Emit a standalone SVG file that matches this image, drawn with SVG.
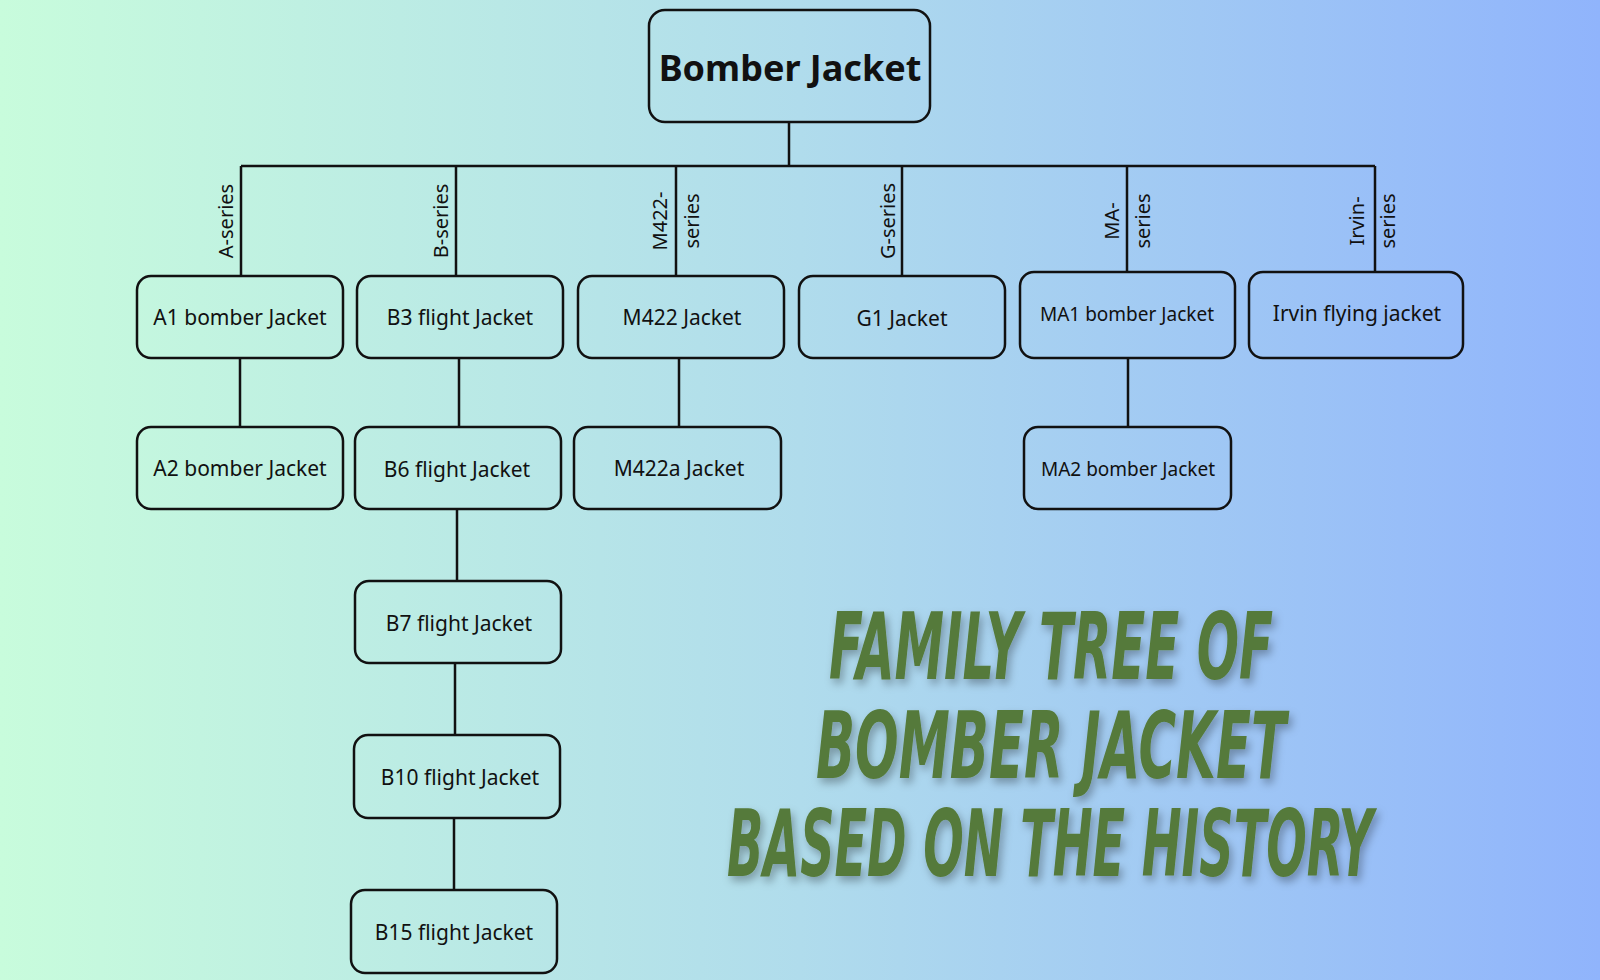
<svg xmlns="http://www.w3.org/2000/svg" width="1600" height="980" viewBox="0 0 1600 980">
<defs>
<linearGradient id="bg" x1="0" y1="0" x2="1" y2="0">
<stop offset="0" stop-color="#c8fcdc"/><stop offset="0.5" stop-color="#b0dcec"/><stop offset="1" stop-color="#90b4fc"/>
</linearGradient>
<filter id="sh" filterUnits="userSpaceOnUse" x="600" y="560" width="900" height="360"><feDropShadow dx="3" dy="5" stdDeviation="4" flood-color="#000" flood-opacity="0.3"/></filter>
<style>
.box{fill:none;stroke:#111;stroke-width:2.5}
.t{font-family:"Noto Sans","Open Sans",sans-serif;font-size:21px;fill:#111;text-anchor:middle;dominant-baseline:central}
.s{font-family:"Noto Sans","Open Sans",sans-serif;font-size:20px;fill:#111;text-anchor:middle}
.ln{stroke:#111;stroke-width:2.5;fill:none}
.title{font-family:"DejaVu Sans Condensed","DejaVu Sans",sans-serif;font-weight:bold;font-style:italic;font-size:92px;fill:#557a3a;text-anchor:middle}
</style>
</defs>
<rect width="1600" height="980" fill="url(#bg)"/>
<g id="connectors">
<path class="ln" d="M789 122V166M241 166H1375M241 166V276M456 166V276M676 166V276M902 166V276M1127 166V272M1375 166V272"/>
<path class="ln" d="M240 358V427M459 358V427M679 358V427M1128 358V427M457 509V581M455 663V735M454 818V890"/>
<g class="s">
<text transform="translate(233,221) rotate(-90)">A-series</text>
<text transform="translate(448,221) rotate(-90)">B-series</text>
<text transform="translate(667,221) rotate(-90)">M422-</text>
<text transform="translate(699,221) rotate(-90)">series</text>
<text transform="translate(895,221) rotate(-90)">G-series</text>
<text transform="translate(1119,221) rotate(-90)">MA-</text>
<text transform="translate(1150,221) rotate(-90)">series</text>
<text transform="translate(1364,221) rotate(-90)">Irvin-</text>
<text transform="translate(1395,221) rotate(-90)">series</text>
</g>
</g>
<g id="root"><rect class="box" x="649" y="10" width="281" height="112" rx="16"/><text class="t" x="790" y="67" style="font-weight:bold;font-size:36px">Bomber Jacket</text></g>
<g id="a1"><rect class="box" x="137" y="276" width="206" height="82" rx="14"/><text class="t" x="240" y="317">A1 bomber Jacket</text></g>
<g id="b3"><rect class="box" x="357" y="276" width="206" height="82" rx="14"/><text class="t" x="460" y="317">B3 flight Jacket</text></g>
<g id="m422"><rect class="box" x="578" y="276" width="206" height="82" rx="14"/><text class="t" x="682" y="317">M422 Jacket</text></g>
<g id="g1"><rect class="box" x="799" y="276" width="206" height="82" rx="14"/><text class="t" x="902" y="318">G1 Jacket</text></g>
<g id="ma1"><rect class="box" x="1020" y="272" width="215" height="86" rx="14"/><text class="t" x="1127" y="314" style="font-size:19px">MA1 bomber Jacket</text></g>
<g id="irvin"><rect class="box" x="1249" y="272" width="214" height="86" rx="14"/><text class="t" x="1357" y="313">Irvin flying jacket</text></g>
<g id="a2"><rect class="box" x="137" y="427" width="206" height="82" rx="14"/><text class="t" x="240" y="468">A2 bomber Jacket</text></g>
<g id="b6"><rect class="box" x="355" y="427" width="206" height="82" rx="14"/><text class="t" x="457" y="469">B6 flight Jacket</text></g>
<g id="m422a"><rect class="box" x="574" y="427" width="207" height="82" rx="14"/><text class="t" x="679" y="468">M422a Jacket</text></g>
<g id="ma2"><rect class="box" x="1024" y="427" width="207" height="82" rx="14"/><text class="t" x="1128" y="469" style="font-size:19px">MA2 bomber Jacket</text></g>
<g id="b7"><rect class="box" x="355" y="581" width="206" height="82" rx="14"/><text class="t" x="459" y="623">B7 flight Jacket</text></g>
<g id="b10"><rect class="box" x="354" y="735" width="206" height="83" rx="14"/><text class="t" x="460" y="777">B10 flight Jacket</text></g>
<g id="b15"><rect class="box" x="351" y="890" width="206" height="83" rx="14"/><text class="t" x="454" y="932">B15 flight Jacket</text></g>
<g id="title" filter="url(#sh)">
<text class="title" x="1051" y="679" textLength="444" lengthAdjust="spacingAndGlyphs">FAMILY TREE OF</text>
<text class="title" x="1051" y="778" textLength="470" lengthAdjust="spacingAndGlyphs">BOMBER JACKET</text>
<text class="title" x="1050" y="876" textLength="646" lengthAdjust="spacingAndGlyphs">BASED ON THE HISTORY</text>
</g>
</svg>
